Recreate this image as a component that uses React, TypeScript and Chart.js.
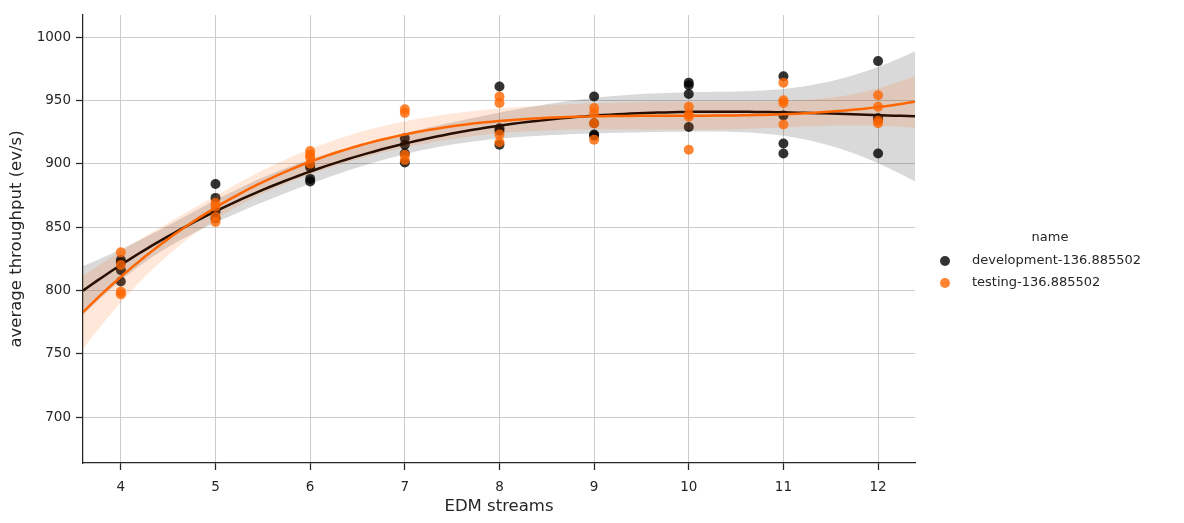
import { useEffect, useRef } from 'react';
import { Chart, registerables } from 'chart.js';

Chart.register(...registerables);

// ---------- data ----------
const streams = [4, 5, 6, 7, 8, 9, 10, 11, 12];
const seriesNames = ['development-136.885502', 'testing-136.885502'];
const devValues = [
  [824, 822, 816, 807],
  [884, 873, 862, 857],
  [899, 897, 888, 886],
  [920, 915, 908, 901],
  [961, 928, 926, 915],
  [953, 932, 923, 922],
  [964, 962, 955, 929],
  [969, 938, 916, 908],
  [981, 936, 935, 908],
];
const testValues = [
  [830, 820, 799, 797],
  [869, 866, 858, 854],
  [910, 907, 905, 900],
  [943, 940, 907, 903],
  [953, 948, 923, 917],
  [944, 940, 932, 919],
  [945, 939, 937, 911],
  [964, 950, 948, 931],
  [954, 945, 934, 932],
];
const xTicks = [4, 5, 6, 7, 8, 9, 10, 11, 12];
const yTicks = [700, 750, 800, 850, 900, 950, 1000];
const xRange = [3.6, 12.39];
const yRange = [663.7, 1017.4];
const polyOrder = 3;
const ciZ = 1.96 * 1.3;

// ---------- regression helpers ----------
function invert(m: number[][]): number[][] {
  const n = m.length;
  const a = m.map((r, i) => [...r, ...Array.from({ length: n }, (_, j) => (i === j ? 1 : 0))]);
  for (let c = 0; c < n; c++) {
    let p = c;
    for (let r = c + 1; r < n; r++) if (Math.abs(a[r][c]) > Math.abs(a[p][c])) p = r;
    [a[c], a[p]] = [a[p], a[c]];
    const pv = a[c][c];
    for (let k = 0; k < 2 * n; k++) a[c][k] /= pv;
    for (let r = 0; r < n; r++) {
      if (r === c) continue;
      const f = a[r][c];
      for (let k = 0; k < 2 * n; k++) a[r][k] -= f * a[c][k];
    }
  }
  return a.map((r) => r.slice(n));
}

function quad(v: number[], M: number[][]) {
  let q = 0;
  for (let r = 0; r < v.length; r++) for (let c = 0; c < v.length; c++) q += v[r] * M[r][c] * v[c];
  return q;
}

function fitSeries(values: number[][]) {
  const xs: number[] = [];
  const ys: number[] = [];
  streams.forEach((s, i) => values[i].forEach((v) => { xs.push(s); ys.push(v); }));
  const d = polyOrder + 1;
  const basis = (x: number) => {
    const t = (x - 8) / 4;
    return Array.from({ length: d }, (_, k) => Math.pow(t, k));
  };
  const A = Array.from({ length: d }, () => Array(d).fill(0));
  const b = Array(d).fill(0);
  xs.forEach((x, i) => {
    const v = basis(x);
    for (let r = 0; r < d; r++) {
      b[r] += v[r] * ys[i];
      for (let c = 0; c < d; c++) A[r][c] += v[r] * v[c];
    }
  });
  const Ai = invert(A);
  const beta = Ai.map((row) => row.reduce((s, a, k) => s + a * b[k], 0));
  const pred = (x: number) => basis(x).reduce((s, v, k) => s + v * beta[k], 0);
  // HC3 sandwich covariance (robust, close to a pairs bootstrap)
  const meat = Array.from({ length: d }, () => Array(d).fill(0));
  xs.forEach((x, i) => {
    const v = basis(x);
    const h = quad(v, Ai);
    const e = ys[i] - pred(x);
    const w = (e * e) / ((1 - h) * (1 - h));
    for (let r = 0; r < d; r++) for (let c = 0; c < d; c++) meat[r][c] += w * v[r] * v[c];
  });
  const tmp = Ai.map((row) => Array.from({ length: d }, (_, c) => row.reduce((s, a, k) => s + a * meat[k][c], 0)));
  const cov = tmp.map((row) => Array.from({ length: d }, (_, c) => row.reduce((s, a, k) => s + a * Ai[k][c], 0)));
  const se = (x: number) => Math.sqrt(quad(basis(x), cov));
  const grid: number[] = [];
  const N = 120;
  for (let i = 0; i <= N; i++) grid.push(xRange[0] + ((xRange[1] - xRange[0]) * i) / N);
  const line = grid.map((x) => ({ x, y: pred(x) }));
  const lower = grid.map((x) => ({ x, y: pred(x) - ciZ * se(x) }));
  const upper = grid.map((x) => ({ x, y: pred(x) + ciZ * se(x) }));
  const points = xs.map((x, i) => ({ x, y: ys[i] }));
  return { line, lower, upper, points };
}

const colors = [
  { point: 'rgba(0,0,0,0.8)', line: '#000000', band: 'rgba(0,0,0,0.15)', legend: 'rgba(0,0,0,0.8)' },
  { point: 'rgba(255,102,0,0.8)', line: '#ff6600', band: 'rgba(255,102,0,0.15)', legend: 'rgba(255,102,0,0.8)' },
];

const FONT = '"DejaVu Sans", sans-serif';

export default function App() {
  const ref = useRef<HTMLCanvasElement | null>(null);
  useEffect(() => {
    if (!ref.current) return;
    const fits = [fitSeries(devValues), fitSeries(testValues)];
    const datasets: any[] = [];
    fits.forEach((f, si) => {
      const base = datasets.length;
      const ord = (1 - si) * 10;
      datasets.push({
        type: 'scatter', label: seriesNames[si], data: f.points,
        backgroundColor: colors[si].point, pointRadius: 5, pointBorderWidth: 0, order: ord + 5,
      });
      datasets.push({
        type: 'line', label: '_lo', data: f.lower, borderWidth: 0, pointRadius: 0, fill: false,
        borderColor: 'rgba(0,0,0,0)', order: ord + 4,
      });
      datasets.push({
        type: 'line', label: '_hi', data: f.upper, borderWidth: 0, pointRadius: 0,
        borderColor: 'rgba(0,0,0,0)', backgroundColor: colors[si].band, fill: base + 1, order: ord + 3,
      });
      datasets.push({
        type: 'line', label: '_fit', data: f.line, borderWidth: 2.5, pointRadius: 0, fill: false,
        borderColor: colors[si].line, order: ord + 2, tension: 0,
      });
    });

    const legendPlugin = {
      id: 'customLegend',
      afterDraw(chart: any) {
        const ctx = chart.ctx;
        ctx.save();
        ctx.fillStyle = '#262626';
        ctx.font = `13px ${FONT}`;
        ctx.textAlign = 'center';
        ctx.textBaseline = 'middle';
        ctx.fillText('name', 1050, 238);
        ctx.textAlign = 'left';
        seriesNames.forEach((n, i) => {
          const y = 261 + i * 22;
          ctx.fillStyle = colors[i].legend;
          ctx.beginPath();
          ctx.arc(945, y, 5, 0, Math.PI * 2);
          ctx.fill();
          ctx.fillStyle = '#262626';
          ctx.fillText(n, 972, y);
        });
        ctx.restore();
      },
    };

    const chart = new Chart(ref.current, {
      type: 'scatter',
      data: { datasets },
      plugins: [legendPlugin],
      options: {
        animation: false,
        responsive: false,
        devicePixelRatio: 1,
        layout: { padding: { top: 15, right: 269, left: 0, bottom: 0 } },
        plugins: { legend: { display: false }, tooltip: { enabled: false } },
        scales: {
          x: {
            type: 'linear', min: xRange[0], max: xRange[1],
            afterBuildTicks: (s: any) => { s.ticks = xTicks.map((v) => ({ value: v })); },
            afterFit: (s: any) => { s.height = 60; },
            grid: { color: '#cccccc', lineWidth: 1, tickColor: '#262626', tickLength: 7, tickWidth: 1.25 },
            border: { color: '#262626', width: 1.25 },
            ticks: { color: '#262626', font: { family: FONT, size: 13.5 }, padding: 9, maxRotation: 0, autoSkip: false, callback: (v: any) => String(v) },
            title: { display: true, text: 'EDM streams', color: '#262626', font: { family: FONT, size: 16.5 }, padding: { top: 0, bottom: 6 } },
          },
          y: {
            type: 'linear', min: yRange[0], max: yRange[1],
            afterBuildTicks: (s: any) => { s.ticks = yTicks.map((v) => ({ value: v })); },
            afterFit: (s: any) => { s.width = 83; },
            grid: { color: '#cccccc', lineWidth: 1, tickColor: '#262626', tickLength: 7, tickWidth: 1.25 },
            border: { color: '#262626', width: 1.25 },
            ticks: { color: '#262626', font: { family: FONT, size: 13.5 }, padding: 5, autoSkip: false, callback: (v: any) => String(v) },
            title: { display: true, text: 'average throughput (ev/s)', color: '#262626', font: { family: FONT, size: 16.5 }, padding: { top: 7, bottom: 0 } },
          },
        },
      } as any,
    });
    return () => chart.destroy();
  }, []);

  return (
    <div style={{ position: 'absolute', left: 0, top: 0, width: 1184, height: 523, background: '#fff' }}>
      <canvas ref={ref} width={1184} height={523} style={{ display: 'block' }} />
    </div>
  );
}
